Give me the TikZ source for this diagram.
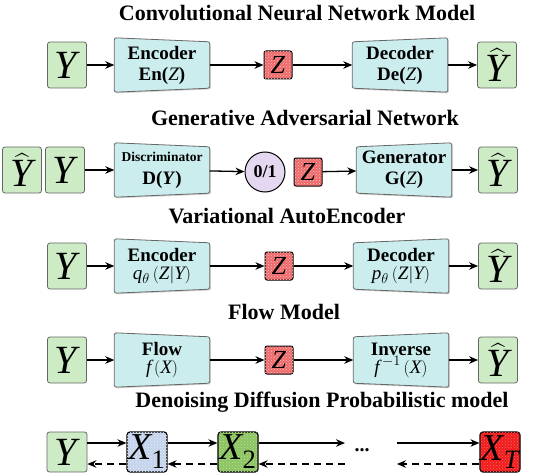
\documentclass[tikz,border=0pt]{standalone}
\usepackage{amsmath}
\usepackage{fontspec}
\setmainfont{Liberation Serif}
\usetikzlibrary{calc,positioning,arrows.meta,patterns,backgrounds,shadows}

\definecolor{ygreen}{HTML}{CDEBC4}
\definecolor{trapcyan}{HTML}{CBEDEE}
\definecolor{zred}{HTML}{EE6A6A}
\definecolor{cpurple}{HTML}{E4D8F0}
\definecolor{xblue}{HTML}{C4D2EC}
\definecolor{xgreen}{HTML}{8CC460}
\definecolor{xred}{HTML}{F01C1C}

\tikzset{
  title/.style={font=\fontsize{22}{22}\selectfont\bfseries},
  ybox/.style={draw=black!60, fill=ygreen, rounded corners=2.5pt, line width=0.8pt,
    minimum width=39pt, minimum height=46pt, inner sep=0pt, font=\fontsize{40}{40}\selectfont},
  zbox/.style={draw=black, fill=zred, rounded corners=2pt, line width=1pt,
    minimum size=28pt, inner sep=0pt, font=\fontsize{26}{26}\selectfont,
    postaction={pattern=crosshatch dots, pattern color=white!60!zred}},
  trap/.style={minimum width=95pt, minimum height=54pt, inner sep=0pt, align=center,
    font=\fontsize{19}{21}\selectfont\bfseries},
  trapfill/.style={draw=black!60, fill=trapcyan, line width=0.8pt, rounded corners=2pt,
    drop shadow={opacity=0.35, shadow xshift=1.2pt, shadow yshift=-1.2pt}},
  xbox/.style={draw=black, rounded corners=3pt, line width=1.2pt,
    minimum size=40pt, inner sep=0pt, font=\fontsize{38}{38}\selectfont},
  arr/.style={-{Stealth[length=9pt,width=7.5pt]}, line width=1.3pt},
  darr/.style={arr, dash pattern=on 7pt off 5pt}
}

% trapezoid boxes: left side taller (encoder) or right side taller (decoder)
\newcommand{\enctrap}[4]{%
  \node[trap] (#1) at (#2,#3) {#4};
  \begin{scope}[on background layer]
    \draw[trapfill] (#1.north west) -- ($(#1.north east)+(0,4)$)
      -- ($(#1.south east)+(0,-4)$) -- (#1.south west) -- cycle;
  \end{scope}}
\newcommand{\dectrap}[4]{%
  \node[trap] (#1) at (#2,#3) {#4};
  \begin{scope}[on background layer]
    \draw[trapfill] ($(#1.north west)+(0,4)$) -- (#1.north east)
      -- (#1.south east) -- ($(#1.south west)+(0,-4)$) -- cycle;
  \end{scope}}
\newcommand{\yhat}{\raisebox{-3pt}{$\widehat{\text{\itshape Y}}$}}

\begin{document}
\begin{tikzpicture}[x=1pt,y=-1pt]
  \useasboundingbox (0,0) rectangle (554,476);

  % Convolutional Neural Network Model
  \node[title] (t1) at (297,13) {Convolutional Neural Network Model};
  \node[ybox] (y1) at (67,65) {\textit{Y}};
  \enctrap{enc1}{162}{65}{Encoder\\En(\textit{\mdseries Z})}
  \node[zbox] (z1) at (278,65) {\textit{Z}};
  \dectrap{dec1}{400}{65}{Decoder\\De(\textit{\mdseries Z})}
  \node[ybox] (yh1) at (497,65) {\yhat};
  \draw[arr] (y1) -- (enc1);
  \draw[arr] (enc1) -- (z1);
  \draw[arr] (z1) -- (dec1);
  \draw[arr] (dec1) -- (yh1);

  % Generative Adversarial Network
  \node[title] (t2) at (305,118) {Generative Adversarial Network};
  \node[ybox] (yh2a) at (22,170) {\yhat};
  \node[ybox] (y2) at (65,170) {\textit{Y}};
  \enctrap{dis2}{162}{170}{{\fontsize{13.5}{15}\selectfont Discriminator}\\[2pt]D(\textit{Y})}
  \node[draw, circle, fill=cpurple, line width=1pt, minimum size=40pt, inner sep=0pt,
    font=\fontsize{18}{18}\selectfont\bfseries] (c2) at (265,172) {0/1};
  \node[zbox] (z2) at (308,172) {\textit{Z}};
  \dectrap{gen2}{404}{170}{Generator\\G(\textit{\mdseries Z})}
  \node[ybox] (yh2) at (498,170) {\yhat};
  \draw[arr] (y2) -- (dis2);
  \draw[arr] (dis2) -- (c2);
  \draw[arr] (z2) -- (gen2);
  \draw[arr] (gen2) -- (yh2);

  % Variational AutoEncoder
  \node[title] (t3) at (287,216) {Variational AutoEncoder};
  \node[ybox] (y3) at (67,266) {\textit{Y}};
  \enctrap{enc3}{162}{266}{Encoder\\[-3pt]{\mdseries $\text{\itshape q}_\theta\left(\text{\itshape Z}\middle|\text{\itshape Y}\right)$}}
  \node[zbox] (z3) at (279,266) {\textit{Z}};
  \dectrap{dec3}{401}{266}{Decoder\\[-3pt]{\mdseries $\text{\itshape p}_\theta\left(\text{\itshape Z}\middle|\text{\itshape Y}\right)$}}
  \node[ybox] (yh3) at (498,266) {\yhat};
  \draw[arr] (y3) -- (enc3);
  \draw[arr] (enc3) -- (z3);
  \draw[arr] (z3) -- (dec3);
  \draw[arr] (dec3) -- (yh3);

  % Flow Model
  \node[title] (t4) at (284,312) {Flow Model};
  \node[ybox] (y4) at (67,360) {\textit{Y}};
  \enctrap{flow4}{162}{360}{Flow\\[-3pt]{\mdseries $\text{\itshape f}\left(\text{\itshape X}\right)$}}
  \node[zbox] (z4) at (279,360) {\textit{Z}};
  \dectrap{inv4}{401}{360}{Inverse\\[-3pt]{\mdseries $\text{\itshape f}^{\,-1}\left(\text{\itshape X}\right)$}}
  \node[ybox] (yh4) at (498,360) {\yhat};
  \draw[arr] (y4) -- (flow4);
  \draw[arr] (flow4) -- (z4);
  \draw[arr] (z4) -- (inv4);
  \draw[arr] (inv4) -- (yh4);

  % Denoising Diffusion Probabilistic model
  \node[title] (t5) at (322,402) {Denoising Diffusion Probabilistic model};
  \node[ybox, minimum height=40pt, minimum width=40pt] (y5) at (67,452) {\textit{Y}};
  \node[xbox, fill=xblue, postaction={pattern=crosshatch dots, pattern color=white!60!xblue}] (x1) at (147,452) {$\text{\itshape X}_{\text{1}}$};
  \node[xbox, fill=xgreen, postaction={pattern=crosshatch dots, pattern color=white!40!xgreen}] (x2) at (238,452) {$\text{\itshape X}_{\text{2}}$};
  \node[font=\fontsize{20}{20}\selectfont\bfseries] (dots) at (362,450) {...};
  \node[xbox, fill=xred, postaction={pattern=crosshatch dots, pattern color=white!35!xred}] (xt) at (500,452) {$\text{\itshape X}_{\text{\itshape T}}$};
  \coordinate (m1) at (345,452);
  \coordinate (m2) at (397,452);
  \draw[arr] ([yshift=9]y5.east) -- ([yshift=9]x1.west);
  \draw[arr] ([yshift=9]x1.east) -- ([yshift=9]x2.west);
  \draw[arr] ([yshift=9]x2.east) -- ([yshift=9]m1);
  \draw[arr] ([yshift=9]m2) -- ([yshift=9]xt.west);
  \draw[darr] ([yshift=-12]x1.west) -- ([yshift=-12]y5.east);
  \draw[darr] ([yshift=-12]x2.west) -- ([yshift=-12]x1.east);
  \draw[darr] ([yshift=-12]m1) -- ([yshift=-12]x2.east);
  \draw[darr] ([yshift=-12]xt.west) -- ([yshift=-12]m2);
\end{tikzpicture}
\end{document}
